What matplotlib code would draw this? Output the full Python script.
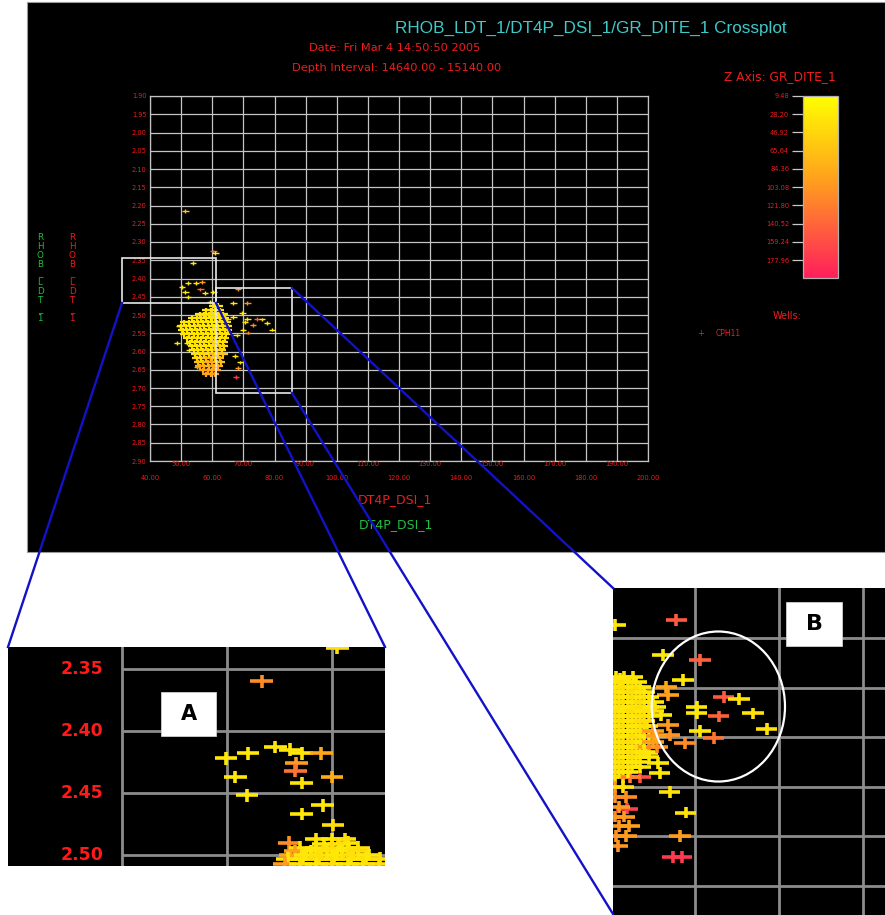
import numpy as np
import matplotlib
matplotlib.use('Agg')
import matplotlib.pyplot as plt
from matplotlib.colors import LinearSegmentedColormap, Normalize
from matplotlib.patches import Rectangle, Ellipse
from matplotlib.lines import Line2D
from matplotlib.path import Path
from matplotlib.cm import ScalarMappable
from matplotlib.transforms import blended_transform_factory

W, H = 885, 915

# ---------------- data ----------------
x_ticks = [40, 50, 60, 70, 80, 90, 100, 110, 120, 130, 140, 150, 160, 170, 180, 190, 200]
y_ticks = [1.90, 1.95, 2.00, 2.05, 2.10, 2.15, 2.20, 2.25, 2.30, 2.35, 2.40,
           2.45, 2.50, 2.55, 2.60, 2.65, 2.70, 2.75, 2.80, 2.85, 2.90]
cbar_ticks = [9.48, 28.20, 46.92, 65.64, 84.36, 103.08, 121.80, 140.52, 159.24, 177.96]
gr_min, gr_max = 9.48, 196.40

# main crossplot: scattered points (DT4P, RHOB, GR)
main_out_x = [51.3, 60.3, 61.0, 53.8, 52.2, 54.8, 56.7, 50.3, 51.3, 56.1, 57.7, 52.2, 60.3, 59.3,
              68.3, 66.7, 71.2, 69.6, 66.7, 64.8, 71.2, 74.4, 76.0, 70.5, 77.6, 79.2, 73.1, 69.9,
              71.5, 67.8, 67.3, 68.9, 68.3, 67.6, 48.7, 51.9, 49.6, 52.5, 55.1]
main_out_y = [2.215, 2.326, 2.331, 2.357, 2.412, 2.412, 2.410, 2.423, 2.437, 2.430, 2.440, 2.451,
              2.437, 2.464, 2.430, 2.467, 2.467, 2.494, 2.505, 2.510, 2.510, 2.510, 2.512, 2.520,
              2.522, 2.540, 2.527, 2.540, 2.548, 2.556, 2.612, 2.630, 2.645, 2.670, 2.577, 2.577,
              2.530, 2.596, 2.643]
main_out_gr = [60, 150, 30, 30, 30, 30, 100, 30, 30, 140, 30, 30, 30, 30,
               110, 30, 110, 30, 30, 30, 30, 150, 30, 40, 30, 30, 110, 30,
               110, 30, 30, 30, 100, 175, 30, 30, 30, 30, 100]

# main crossplot: dense cluster, row by row
cluster_y = [2.475, 2.487, 2.498, 2.509, 2.520, 2.531, 2.542, 2.553, 2.564,
             2.575, 2.586, 2.597, 2.608, 2.619, 2.630, 2.641, 2.652, 2.663]
cluster_x = [
    [60.5, 62.0],
    [58.0, 59.5, 61.0, 62.5],
    [56.0, 57.5, 59.0, 60.5, 62.0, 63.5],
    [53.5, 55.0, 56.5, 58.0, 59.5, 61.0, 62.5, 64.0],
    [51.0, 52.5, 54.0, 55.5, 57.0, 58.5, 60.0, 61.5, 63.0, 64.5],
    [50.0, 51.5, 53.0, 54.5, 56.0, 57.5, 59.0, 60.5, 62.0, 63.5, 65.0],
    [50.5, 52.0, 53.5, 55.0, 56.5, 58.0, 59.5, 61.0, 62.5, 64.0, 65.0],
    [51.0, 52.5, 54.0, 55.5, 57.0, 58.5, 60.0, 61.5, 63.0, 64.5],
    [52.0, 53.5, 55.0, 56.5, 58.0, 59.5, 61.0, 62.5, 64.0],
    [53.0, 54.5, 56.0, 57.5, 59.0, 60.5, 62.0, 63.5],
    [53.5, 55.0, 56.5, 58.0, 59.5, 61.0, 62.5, 63.8],
    [54.0, 55.5, 57.0, 58.5, 60.0, 61.5, 63.0],
    [54.5, 56.0, 57.5, 59.0, 60.5, 62.0, 63.5],
    [55.0, 56.5, 58.0, 59.5, 61.0, 62.5],
    [55.5, 57.0, 58.5, 60.0, 61.5, 62.8],
    [56.0, 57.5, 59.0, 60.5, 62.0],
    [57.0, 58.5, 60.0, 61.3],
    [58.0, 59.5, 60.8],
]
cluster_gr = [
    [35, 30],
    [30, 40, 30, 35],
    [30, 35, 30, 40, 30, 35],
    [30, 35, 40, 30, 30, 35, 30, 40],
    [35, 30, 30, 40, 30, 35, 30, 30, 40, 35],
    [30, 35, 30, 30, 40, 30, 35, 30, 30, 35, 40],
    [35, 30, 30, 35, 30, 40, 30, 30, 35, 30, 45],
    [30, 35, 30, 30, 40, 30, 35, 30, 40, 35],
    [35, 30, 40, 30, 35, 30, 45, 30, 40],
    [30, 35, 30, 40, 30, 55, 35, 40],
    [35, 30, 40, 30, 35, 40, 60, 45],
    [30, 40, 35, 45, 30, 70, 45],
    [40, 35, 50, 35, 75, 45, 60],
    [45, 40, 65, 80, 50, 70],
    [70, 55, 80, 85, 75, 65],
    [80, 85, 75, 90, 80],
    [90, 95, 85, 90],
    [95, 90, 100],
]

# zoom A
a_ticks_y = [2.35, 2.40, 2.45, 2.50]
a_grid_x = [40, 50, 60]
a_x = [53.3, 60.5, 49.9, 52.0, 54.6, 56.0, 57.1, 59.0, 56.6, 56.5, 50.8, 60.0, 57.1, 51.9,
       59.1, 57.1, 60.1, 55.9, 61.5,
       58.5, 60.0, 61.2, 59.2, 60.7,
       57.0, 58.5, 60.0, 61.5, 62.5,
       56.5, 58.0, 59.5, 61.0, 62.5,
       56.0, 57.5, 59.0, 60.5, 62.0, 63.5,
       55.8, 57.2, 58.8, 60.2, 61.8, 63.2, 64.6,
       55.5, 57.0, 58.5, 60.0, 61.5, 63.0, 64.5]
a_y = [2.360, 2.333, 2.422, 2.418, 2.413, 2.415, 2.418, 2.418, 2.426, 2.432, 2.437, 2.437,
       2.442, 2.452, 2.460, 2.467, 2.476, 2.490, 2.490,
       2.487, 2.487, 2.487, 2.491, 2.491,
       2.494, 2.494, 2.494, 2.494, 2.494,
       2.497, 2.497, 2.497, 2.497, 2.497,
       2.500, 2.500, 2.500, 2.500, 2.500, 2.500,
       2.503, 2.503, 2.503, 2.503, 2.503, 2.503, 2.503,
       2.507, 2.507, 2.507, 2.507, 2.507, 2.507, 2.507]
a_gr = [110, 40, 30, 30, 30, 35, 30, 90, 100, 130, 30, 85, 35, 30,
        30, 30, 40, 110, 30,
        35, 30, 40, 30, 35,
        35, 30, 40, 30, 35,
        95, 30, 35, 30, 40,
        90, 30, 35, 30, 40, 30,
        35, 30, 40, 30, 35, 30, 40,
        100, 35, 30, 40, 30, 35, 40]

# zoom B
b_grid_x = [70, 80, 90]
b_grid_y = [2.45, 2.50, 2.55, 2.60, 2.65, 2.70]
b_x = [67.8, 70.6, 66.2, 68.6, 73.4, 75.2, 76.9, 72.8, 78.5, 72.2, 70.6, 70.2, 70.2, 67.0,
       68.9, 68.2, 67.4, 68.4, 61.9, 68.8, 66.6, 66.8, 66.0, 66.8, 67.0, 65.3, 65.6, 65.8,
       64.3, 63.5, 60.5, 61.1,
       60.6, 61.6, 62.6,
       60.5, 61.5, 62.5, 63.5,
       60.5, 61.5, 62.5, 63.5, 64.5,
       60.5, 61.5, 62.5, 63.5, 64.5, 65.3,
       60.5, 61.5, 62.5, 63.5, 64.5,
       60.5, 61.5, 62.5, 63.5, 64.3,
       60.5, 61.5, 62.5, 63.5, 64.5, 65.5,
       60.5, 61.5, 62.5, 63.5, 64.5, 65.5,
       60.5, 61.5, 62.5, 63.5, 64.5,
       60.5, 61.5, 62.5, 63.5,
       60.5, 61.5, 62.3,
       61.0, 62.0, 63.0,
       61.0, 62.0, 63.0, 64.0,
       61.0, 62.0, 63.0, 64.0, 65.0,
       61.0, 62.0, 63.0, 64.0, 65.0,
       61.0, 62.0, 63.0, 64.0,
       61.0, 62.0, 63.0, 64.0, 65.0,
       61.0, 62.0, 63.0, 64.0, 65.0,
       61.0, 62.0, 63.0, 64.0,
       61.0, 62.0, 63.0,
       61.0, 62.0,
       60.5, 61.5, 60.5, 61.8, 61.0, 60.5, 61.6, 61.0, 62.2, 60.6, 61.8, 60.8]
b_y = [2.432, 2.472, 2.467, 2.492, 2.509, 2.511, 2.526, 2.529, 2.542, 2.551, 2.544, 2.519,
       2.526, 2.605, 2.626, 2.650, 2.671, 2.671, 2.622, 2.556, 2.499, 2.507, 2.528, 2.538,
       2.548, 2.549, 2.576, 2.586, 2.566, 2.590, 2.437, 2.491,
       2.489, 2.489, 2.489,
       2.499, 2.499, 2.499, 2.499,
       2.509, 2.509, 2.509, 2.509, 2.509,
       2.519, 2.519, 2.519, 2.519, 2.519, 2.519,
       2.529, 2.529, 2.529, 2.529, 2.529,
       2.539, 2.539, 2.539, 2.539, 2.539,
       2.549, 2.549, 2.549, 2.549, 2.549, 2.549,
       2.560, 2.560, 2.560, 2.560, 2.560, 2.560,
       2.570, 2.570, 2.570, 2.570, 2.570,
       2.580, 2.580, 2.580, 2.580,
       2.590, 2.590, 2.590,
       2.494, 2.494, 2.494,
       2.504, 2.504, 2.504, 2.504,
       2.514, 2.514, 2.514, 2.514, 2.514,
       2.524, 2.524, 2.524, 2.524, 2.524,
       2.534, 2.534, 2.534, 2.534,
       2.544, 2.544, 2.544, 2.544, 2.544,
       2.555, 2.555, 2.555, 2.555, 2.555,
       2.565, 2.565, 2.565, 2.565,
       2.575, 2.575, 2.575,
       2.585, 2.585,
       2.600, 2.600, 2.610, 2.610, 2.620, 2.630, 2.630, 2.640, 2.640, 2.650, 2.650, 2.660]
b_gr = [150, 145, 30, 30, 150, 35, 35, 145, 35, 130, 30, 30, 30, 35,
        35, 100, 175, 175, 170, 110, 90, 95, 30, 100, 105, 30, 30, 30,
        30, 160, 30, 30,
        30, 35, 30,
        35, 30, 40, 30,
        30, 35, 30, 40, 30,
        35, 30, 30, 35, 40, 30,
        30, 35, 30, 30, 35,
        35, 30, 40, 30, 35,
        30, 35, 30, 40, 30, 100,
        35, 30, 35, 30, 100, 110,
        30, 40, 30, 35, 30,
        35, 30, 40, 30,
        30, 35, 120,
        30, 35, 30,
        35, 30, 40, 30,
        30, 35, 30, 40, 30,
        35, 30, 40, 30, 35,
        30, 35, 30, 40,
        35, 30, 30, 35, 100,
        30, 35, 40, 30, 95,
        35, 30, 40, 30,
        30, 35, 30,
        35, 30,
        100, 35, 105, 110, 100, 110, 100, 105, 95, 110, 100, 105]

# ---------------- style ----------------
cmap = LinearSegmentedColormap.from_list(
    'gr', [(0.0, '#ffff00'), (0.45, '#ffa21c'), (1.0, '#ff1e5c')])
norm = Normalize(vmin=gr_min, vmax=gr_max)
plus = Path([(-1, 0), (1, 0), (0, -0.55), (0, 0.55)],
            [Path.MOVETO, Path.LINETO, Path.MOVETO, Path.LINETO])

RED = '#f01c1c'
GREEN = '#22c040'
GRID = '#c4c4c4'

fig = plt.figure(figsize=(W / 100, H / 100), dpi=100)
fig.patch.set_facecolor('white')


def px_axes(x0, y0, x1, y1):
    return fig.add_axes([x0 / W, 1 - y1 / H, (x1 - x0) / W, (y1 - y0) / H])


def ftext(px, py, s, **kw):
    return fig.text(px / W, 1 - py / H, s, **kw)


def fline(x0, y0, x1, y1, **kw):
    fig.add_artist(Line2D([x0 / W, x1 / W], [1 - y0 / H, 1 - y1 / H],
                          transform=fig.transFigure, **kw))


def frect(x0, y0, x1, y1, **kw):
    r = Rectangle((x0 / W, 1 - y1 / H), (x1 - x0) / W, (y1 - y0) / H,
                  transform=fig.transFigure, **kw)
    fig.add_artist(r)
    return r


# black screenshot panel
frect(27, 2, 885, 552, facecolor='black', edgecolor='#9a9a9a', lw=0.8, zorder=-5)

# ---------------- main crossplot ----------------
ax = px_axes(150, 96, 648, 461)
ax.set_facecolor('black')
ax.set_xlim(x_ticks[0], x_ticks[-1])
ax.set_ylim(y_ticks[-1], y_ticks[0])
ax.set_xticks(x_ticks)
ax.set_yticks(y_ticks)
ax.grid(True, color=GRID, lw=0.9)
ax.set_axisbelow(True)
for s in ax.spines.values():
    s.set_color(GRID)
    s.set_linewidth(0.9)
ax.tick_params(axis='both', length=0)
ax.tick_params(axis='y', labelcolor=RED, labelsize=4.8, pad=2.5)
ax.set_yticklabels(['%.2f' % v for v in y_ticks], fontfamily='DejaVu Sans')
ax.set_xticklabels([])
tr = blended_transform_factory(ax.transData, fig.transFigure)
for v in x_ticks:
    row_y = 464 if (v // 10) % 2 == 1 else 478
    ax.text(v, 1 - row_y / H, '%.2f' % v, transform=tr, color=RED, fontsize=4.8,
            ha='center', va='center', fontfamily='DejaVu Sans')

cx, cy, cg = [], [], []
for yv, xs, gs in zip(cluster_y, cluster_x, cluster_gr):
    cx += xs
    cy += [yv] * len(xs)
    cg += gs
ax.scatter(cx, cy, c=cg, cmap=cmap, norm=norm, marker=plus, s=40, linewidths=1.6)
ax.scatter(main_out_x, main_out_y, c=main_out_gr, cmap=cmap, norm=norm, marker=plus,
           s=24, linewidths=1.0)

# ---------------- colorbar ----------------
cax = px_axes(803, 96, 838, 278)
cb = fig.colorbar(ScalarMappable(norm=norm, cmap=cmap), cax=cax)
cax.invert_yaxis()
cb.set_ticks(cbar_ticks)
cb.set_ticklabels(['%.2f' % v for v in cbar_ticks])
cax.yaxis.set_ticks_position('left')
cax.tick_params(axis='y', colors='#c8c8c8', labelcolor=RED, labelsize=4.8,
                length=8, width=0.9, pad=2)
cb.outline.set_edgecolor('#b0b0b0')
cb.outline.set_linewidth(0.9)

# ---------------- texts ----------------
ftext(591, 28, 'RHOB_LDT_1/DT4P_DSI_1/GR_DITE_1 Crossplot', color='#3fc9c9',
      fontsize=12.3, ha='center', va='center', fontfamily='Liberation Sans')
ftext(395, 48, 'Date: Fri Mar 4 14:50:50 2005', color=RED, fontsize=8.2,
      ha='center', va='center', fontfamily='DejaVu Sans')
ftext(397, 68, 'Depth Interval: 14640.00 - 15140.00', color=RED, fontsize=8.2,
      ha='center', va='center', fontfamily='DejaVu Sans')
ftext(780, 77, 'Z Axis: GR_DITE_1', color=RED, fontsize=8.8,
      ha='center', va='center', fontfamily='DejaVu Sans')
ftext(787, 316, 'Wells:', color=RED, fontsize=7, ha='center', va='center',
      fontfamily='DejaVu Sans')
ftext(701, 333, '+', color=RED, fontsize=6, ha='center', va='center')
ftext(716, 333, 'CPH11', color=RED, fontsize=5.5, ha='left', va='center',
      fontfamily='DejaVu Sans')
ylab = '\n'.join(list('RHOB_LDT_1'))
ftext(40, 278, ylab, color=GREEN, fontsize=6.3, ha='center', va='center',
      linespacing=1.0, fontfamily='DejaVu Sans')
ftext(72, 278, ylab, color=RED, fontsize=6.3, ha='center', va='center',
      linespacing=1.0, fontfamily='DejaVu Sans')
ftext(395, 500, 'DT4P_DSI_1', color=RED, fontsize=9, ha='center', va='center',
      fontfamily='DejaVu Sans')
ftext(396, 525, 'DT4P_DSI_1', color=GREEN, fontsize=9, ha='center', va='center',
      fontfamily='DejaVu Sans')

# ---------------- zoom boxes on main plot ----------------
frect(122, 258, 216, 303, facecolor='none', edgecolor='#e8e8e8', lw=1.2, zorder=4)
frect(216, 288, 292, 393, facecolor='none', edgecolor='#e8e8e8', lw=1.2, zorder=4)

# ---------------- inset A ----------------
axa = px_axes(8, 647, 385, 866)
axa.set_facecolor('black')
axa.set_xlim(29.14, 65.05)
axa.set_ylim(2.5089, 2.3323)
axa.set_xticks([])
axa.set_yticks([])
for s in axa.spines.values():
    s.set_visible(False)
for v in a_grid_x:
    axa.axvline(v, color='#8c8c8c', lw=2.0, zorder=1)
axa.hlines(a_ticks_y, a_grid_x[0], 65.05, color='#8c8c8c', lw=2.0, zorder=1)
tra = blended_transform_factory(fig.transFigure, axa.transData)
for v in a_ticks_y:
    axa.text(82 / W, v, '%.2f' % v, transform=tra, color='#ff1a1a', fontsize=12.5,
             fontweight='bold', ha='center', va='center', fontfamily='DejaVu Sans')
axa.scatter(a_x, a_y, c=a_gr, cmap=cmap, norm=norm, marker=plus, s=270,
            linewidths=2.6, zorder=3)

# ---------------- inset B ----------------
axb = px_axes(613, 588, 885, 915)
axb.set_facecolor('black')
axb.set_xlim(60.26, 92.57)
axb.set_ylim(2.7294, 2.3994)
axb.set_xticks([])
axb.set_yticks([])
for s in axb.spines.values():
    s.set_visible(False)
for v in b_grid_x:
    axb.axvline(v, color='#8c8c8c', lw=2.0, zorder=1)
for v in b_grid_y:
    axb.axhline(v, color='#8c8c8c', lw=2.0, zorder=1)
axb.scatter(b_x, b_y, c=b_gr, cmap=cmap, norm=norm, marker=plus, s=240,
            linewidths=2.6, zorder=3)
axb.add_patch(Ellipse((72.77, 2.519), 15.84, 0.1514, facecolor='none',
                      edgecolor='white', lw=1.6, zorder=4))

# ---------------- labels A / B ----------------
frect(161, 692, 216, 736, facecolor='white', edgecolor='#d0d0d0', lw=0.6, zorder=6)
ftext(188.5, 714, 'A', color='black', fontsize=15, fontweight='bold',
      ha='center', va='center', zorder=7, fontfamily='DejaVu Sans')
frect(786, 602, 842, 646, facecolor='white', edgecolor='#d0d0d0', lw=0.6, zorder=6)
ftext(814, 624, 'B', color='black', fontsize=16, fontweight='bold',
      ha='center', va='center', zorder=7, fontfamily='DejaVu Sans')

# ---------------- blue connector lines ----------------
BLUE = '#1212c8'
fline(122, 303, 8, 647, color=BLUE, lw=1.7, zorder=5)
fline(216, 303, 385, 647, color=BLUE, lw=1.7, zorder=5)
fline(292, 393, 613, 914, color=BLUE, lw=1.7, zorder=5)
fline(292, 288, 613, 588, color=BLUE, lw=1.7, zorder=5)

fig.savefig('out.png', dpi=100, facecolor='white')
